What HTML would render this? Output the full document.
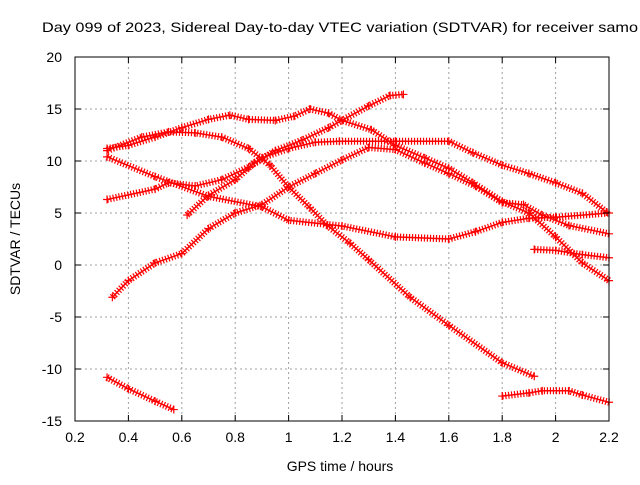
<!DOCTYPE html>
<html><head><meta charset="utf-8"><style>
body{margin:0;background:#fff;}
svg text{font-family:"Liberation Sans",sans-serif;font-size:14px;fill:#000;}
</style></head><body>
<svg id="chart" width="640" height="480" viewBox="0 0 640 480">
<rect width="640" height="480" fill="#fff"/>
<text x="42" y="32" textLength="596" lengthAdjust="spacingAndGlyphs">Day 099 of 2023, Sidereal Day-to-day VTEC variation (SDTVAR) for receiver samo</text>
<g id="grid"></g>
<g id="series"></g>
<rect x="75" y="57" width="534" height="364" fill="none" stroke="#000" stroke-width="1"/>
<g id="ticks"></g>
<text x="340" y="471" text-anchor="middle">GPS time / hours</text>
<text transform="translate(20,239) rotate(-90)" text-anchor="middle">SDTVAR / TECUs</text>
</svg>
<script>
const xTicks=[0.2,0.4,0.6,0.8,1,1.2,1.4,1.6,1.8,2,2.2];
const xTickLabels=["0.2","0.4","0.6","0.8","1","1.2","1.4","1.6","1.8","2","2.2"];
const yTicks=[-15,-10,-5,0,5,10,15,20];
const yTickLabels=["-15","-10","-5","0","5","10","15","20"];
const seriesA=[[0.32,11.2],[0.4,11.5],[0.5,12.3],[0.6,13.2],[0.7,14],[0.78,14.4],[0.85,14],[0.95,13.9],[1.02,14.3],[1.08,15],[1.15,14.6],[1.2,13.9],[1.31,13],[1.4,11.5],[1.51,10.3],[1.6,9.3],[1.69,7.9],[1.8,6.1],[1.9,5],[2,2.7],[2.1,0.2],[2.2,-1.5]];
const seriesB=[[0.62,4.8],[0.7,6.7],[0.8,8.2],[0.87,9.8],[0.9,10.3],[1,11.2],[1.1,11.8],[1.19,11.9],[1.4,11.9],[1.6,11.9],[1.69,10.8],[1.8,9.6],[1.9,8.8],[2,7.9],[2.1,6.9],[2.19,5.1]];
const seriesC=[[0.34,-3.1],[0.4,-1.5],[0.5,0.2],[0.6,1.1],[0.7,3.5],[0.8,5],[0.9,5.8],[1,7.5],[1.1,8.8],[1.2,10.1],[1.3,11.3],[1.4,11.1],[1.51,9.8],[1.6,8.8],[1.7,7.6],[1.8,6],[1.88,5.8],[1.95,4.8],[2.05,3.8],[2.2,3]];
const seriesE=[[0.32,11],[0.45,12.3],[0.55,12.8],[0.65,12.7],[0.75,12.3],[0.85,11.2],[0.93,9.6],[1,7.5],[1.08,5.5],[1.145,3.8],[1.23,2.1],[1.3,0.5],[1.455,-3.1],[1.6,-5.8],[1.8,-9.4],[1.92,-10.7]];
const seriesG=[[0.32,10.4],[0.5,8.5],[0.7,6.6],[0.9,5.6],[1,4.3],[1.2,3.75],[1.4,2.7],[1.6,2.5],[1.7,3.2],[1.8,4.1],[1.9,4.5],[2,4.6],[2.2,5]];
const seriesH=[[0.32,6.3],[0.5,7.3],[0.55,7.9],[0.65,7.6],[0.75,8.2],[0.85,9.4],[0.95,11],[1.05,12],[1.15,13.2],[1.2,13.9],[1.3,15.3],[1.38,16.3],[1.43,16.4]];
const seriesJ=[[1.92,1.5],[2,1.4],[2.1,1],[2.2,0.7]];
const seriesK=[[0.32,-10.8],[0.4,-11.9],[0.5,-13.1],[0.57,-13.9]];
const seriesL=[[1.8,-12.6],[1.9,-12.3],[1.95,-12.1],[2.05,-12.1],[2.1,-12.5],[2.2,-13.2]];
const allSeries=[seriesA,seriesB,seriesC,seriesE,seriesG,seriesH,seriesJ,seriesK,seriesL];
const NS="http://www.w3.org/2000/svg";
const X=t=>75+(t-0.2)*267;
const Y=v=>57+(20-v)*10.4;
const grid=document.getElementById('grid'),ticks=document.getElementById('ticks'),ser=document.getElementById('series');
function mk(tag,attrs,parent){const e=document.createElementNS(NS,tag);for(const k in attrs)e.setAttribute(k,attrs[k]);parent.appendChild(e);return e;}
xTicks.forEach((t,i)=>{
 if(i>0&&i<xTicks.length-1){const g=mk('line',{x1:X(t),x2:X(t),y1:57,y2:421,stroke:'#a0a0a0','stroke-dasharray':'2,3'},grid);
 
 }
 const tk=mk('path',{d:`M${X(t)},421v-6M${X(t)},57v6`,stroke:'#000'},ticks);
 
 
 const l=mk('text',{x:X(t),y:442,'text-anchor':'middle'},ticks);l.textContent=xTickLabels[i];
 
 
});
yTicks.forEach((v,i)=>{
 if(i>0&&i<yTicks.length-1){const g=mk('line',{x1:75,x2:609,y1:Y(v),y2:Y(v),stroke:'#a0a0a0','stroke-dasharray':'2,3'},grid);
 
 }
 const tk=mk('path',{d:`M75,${Y(v)}h6M609,${Y(v)}h-6`,stroke:'#000'},ticks);
 
 
 const l=mk('text',{x:62,y:Y(v)+5,'text-anchor':'end'},ticks);l.textContent=yTickLabels[i];
 
 
});
allSeries.forEach((s,si)=>{
 const pts=s.map(p=>X(p[0]).toFixed(1)+','+Y(p[1]).toFixed(1)).join(' ');
 const band=mk('polyline',{points:pts,fill:'none',stroke:'#ff0000','stroke-width':7,'stroke-linejoin':'round','stroke-dasharray':'1.2,1.8'},ser);
 
 
 const line=mk('polyline',{points:pts,fill:'none',stroke:'#ff0000','stroke-width':1.5},ser);
 
 
 s.forEach(p=>{
  const m=mk('path',{d:`M${X(p[0])-4},${Y(p[1])}h8M${X(p[0])},${Y(p[1])-4}v8`,stroke:'#ff0000','stroke-width':1.2},ser);
  
  
 });
});
</script>
</body></html>
